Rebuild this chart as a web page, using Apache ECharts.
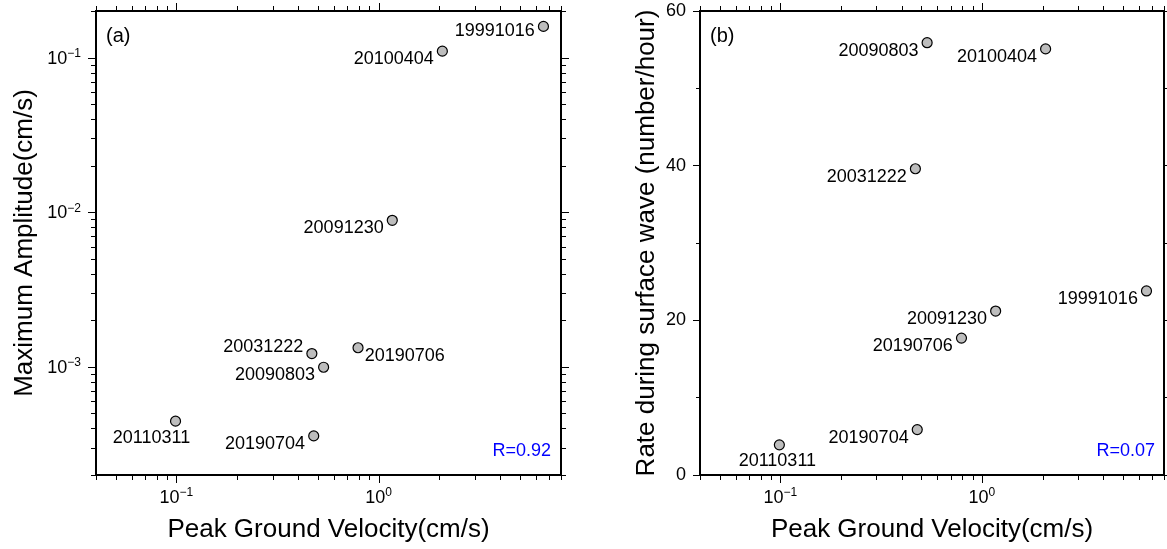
<!DOCTYPE html>
<html>
<head>
<meta charset="utf-8">
<script src="https://cdn.jsdelivr.net/npm/echarts@6/dist/echarts.min.js"></script>
<style>
html,body{margin:0;padding:0;background:#fff;}
#chart{width:1167px;height:549px;}
</style>
</head>
<body>
<div id="chart"></div>
<script>
// ---------------- data ----------------
const events = ['19991016','20100404','20091230','20031222','20090803','20190706','20110311','20190704'];
const pgv    = [6.55, 2.07, 1.17, 0.468, 0.535, 0.792, 0.099, 0.478];          // cm/s
const maxAmp = [0.159, 0.110, 0.00887, 0.00122, 0.000995, 0.00133, 0.000446, 0.000358]; // cm/s
const rate   = [23.8, 55.1, 21.2, 39.6, 55.9, 17.7, 3.9, 5.87];                 // number/hour
const pgvRange = [0.04, 8];
const ampRange = [0.0002, 0.2];
const rateRange = [0, 60];
const rateInterval = 20;
const panelTags = ['(a)', '(b)'];
const corrTexts = ['R=0.92', 'R=0.07'];
const xTitle = 'Peak Ground Velocity(cm/s)';
const yTitleA = 'Maximum Amplitude(cm/s)';
const yTitleB = 'Rate during surface wave (number/hour)';

// ---------------- styling ----------------
const FONT = "'Liberation Sans', Arial, Helvetica, sans-serif";
const placeA = {
  '19991016':{pos:'left',dy:5}, '20100404':{pos:'left',dy:8}, '20091230':{pos:'left',dy:8},
  '20031222':{pos:'left',dy:-7}, '20090803':{pos:'left',dy:8}, '20190706':{pos:'right',dy:8},
  '20110311':{pos:'bottom',dx:-24}, '20190704':{pos:'left',dy:8}
};
const placeB = {
  '19991016':{pos:'left',dy:8}, '20100404':{pos:'left',dy:8}, '20091230':{pos:'left',dy:8},
  '20031222':{pos:'left',dy:8}, '20090803':{pos:'left',dy:8}, '20190706':{pos:'left',dy:8},
  '20110311':{pos:'bottom',dx:-2}, '20190704':{pos:'left',dy:8}
};
function labelFor(p){
  const base = {show:true, formatter:'{b}', fontSize:18, color:'#000', fontFamily:FONT};
  if (p.pos === 'left') return Object.assign(base, {position:'left', distance:3, offset:[0,p.dy]});
  if (p.pos === 'right') return Object.assign(base, {position:'right', distance:1, offset:[0,p.dy]});
  return Object.assign(base, {position:'bottom', distance:2, offset:[p.dx,0]});
}
function logLabel(margin){
  return {
    margin: margin, color:'#000', fontFamily:FONT,
    formatter: function(v){
      const k = Math.log10(v), r = Math.round(k);
      if (Math.abs(k - r) > 1e-6) return '';
      return '{b|10}{s|' + (r < 0 ? '\u2212' : '') + Math.abs(r) + '}';
    },
    rich: {
      b: {fontSize:18, lineHeight:20, verticalAlign:'bottom', fontFamily:FONT, color:'#000'},
      s: {fontSize:12, lineHeight:12, verticalAlign:'top', fontFamily:FONT, color:'#000'}
    }
  };
}
function logTicks(range){
  const out = [];
  const e0 = Math.floor(Math.log10(range[0])) , e1 = Math.ceil(Math.log10(range[1]));
  for (let e = e0; e <= e1; e++) {
    for (let m = 1; m <= 9; m++) {
      const v = parseFloat((m * Math.pow(10, e)).toPrecision(6));
      if (v >= range[0] * 0.9999 && v <= range[1] * 1.0001) out.push({v: v, major: m === 1 ? 1 : 0});
    }
  }
  return out;
}
const MAJ = 7, MIN = 4;
function ln(x1,y1,x2,y2){
  return {type:'line', shape:{x1:x1,y1:y1,x2:x2,y2:y2}, style:{stroke:'#000', lineWidth:1}};
}
function xTickRender(yr){
  return function(params, api){
    const v = api.value(0), len = api.value(2) ? MAJ : MIN;
    const pb = api.coord([v, yr[0]]), pt = api.coord([v, yr[1]]);
    const x = Math.round(pb[0]) + 0.5;
    return {type:'group', children:[ ln(x, pb[1]+1, x, pb[1]+1+len), ln(x, pt[1]-1, x, pt[1]-1-len) ]};
  };
}
function yTickRender(xr){
  return function(params, api){
    const v = api.value(1), len = api.value(2) ? MAJ : MIN;
    const pl = api.coord([xr[0], v]), pr = api.coord([xr[1], v]);
    const y = Math.round(pl[1]) + 0.5;
    return {type:'group', children:[ ln(pl[0]-1, y, pl[0]-1-len, y), ln(pr[0]+1, y, pr[0]+1+len, y) ]};
  };
}
const xt = logTicks(pgvRange), yt = logTicks(ampRange);

const nameStyle = {fontSize:26, color:'#000', fontFamily:FONT};
const gridBase = {top:11, width:465, height:464, show:true, borderColor:'#000', borderWidth:2, backgroundColor:'transparent'};

const option = {
  animation:false,
  backgroundColor:'#fff',
  textStyle:{fontFamily:FONT},
  grid:[ Object.assign({left:96}, gridBase), Object.assign({left:700}, gridBase) ],
  xAxis:[
    {gridIndex:0, type:'log', logBase:10, min:pgvRange[0], max:pgvRange[1],
     axisLine:{show:false}, axisTick:{show:false}, splitLine:{show:false},
     axisLabel:logLabel(12), name:xTitle, nameLocation:'middle', nameGap:42, nameTextStyle:nameStyle},
    {gridIndex:1, type:'log', logBase:10, min:pgvRange[0], max:pgvRange[1],
     axisLine:{show:false}, axisTick:{show:false}, splitLine:{show:false},
     axisLabel:logLabel(12), name:xTitle, nameLocation:'middle', nameGap:42, nameTextStyle:nameStyle}
  ],
  yAxis:[
    {gridIndex:0, type:'log', logBase:10, min:ampRange[0], max:ampRange[1],
     axisLine:{show:false}, axisTick:{show:false}, splitLine:{show:false},
     axisLabel:logLabel(15), name:yTitleA, nameLocation:'middle', nameGap:58, nameTextStyle:nameStyle},
    {gridIndex:1, type:'value', min:rateRange[0], max:rateRange[1], interval:rateInterval,
     axisLine:{show:false}, splitLine:{show:false},
     axisTick:{show:true, length:MAJ, lineStyle:{color:'#000', width:1}},
     minorTick:{show:true, splitNumber:2, length:MIN, lineStyle:{color:'#000', width:1}},
     axisLabel:{margin:14, fontSize:18, color:'#000', fontFamily:FONT},
     name:yTitleB, nameLocation:'middle', nameGap:40, nameTextStyle:nameStyle},
    {gridIndex:1, type:'value', position:'right', min:rateRange[0], max:rateRange[1], interval:rateInterval,
     axisLine:{show:false}, splitLine:{show:false}, axisLabel:{show:false},
     axisTick:{show:true, length:MAJ, lineStyle:{color:'#000', width:1}},
     minorTick:{show:true, splitNumber:2, length:MIN, lineStyle:{color:'#000', width:1}}}
  ],
  graphic:[
    {type:'text', x:106, y:36, style:{text:panelTags[0], font:'20px '+FONT, fill:'#000', align:'left', verticalAlign:'middle'}},
    {type:'text', x:710, y:36, style:{text:panelTags[1], font:'20px '+FONT, fill:'#000', align:'left', verticalAlign:'middle'}},
    {type:'text', x:551, y:451, style:{text:corrTexts[0], font:'18px '+FONT, fill:'#0000ff', align:'right', verticalAlign:'middle'}},
    {type:'text', x:1155, y:451, style:{text:corrTexts[1], font:'18px '+FONT, fill:'#0000ff', align:'right', verticalAlign:'middle'}}
  ],
  series:[
    {type:'scatter', xAxisIndex:0, yAxisIndex:0, symbol:'circle', symbolSize:10, z:5,
     itemStyle:{color:'#bdbdbd', borderColor:'#000', borderWidth:1.2, opacity:1},
     data: events.map((e,i)=>({name:e, value:[pgv[i], maxAmp[i]], label:labelFor(placeA[e])}))},
    {type:'scatter', xAxisIndex:1, yAxisIndex:1, symbol:'circle', symbolSize:10, z:5,
     itemStyle:{color:'#bdbdbd', borderColor:'#000', borderWidth:1.2, opacity:1},
     data: events.map((e,i)=>({name:e, value:[pgv[i], rate[i]], label:labelFor(placeB[e])}))},
    {type:'custom', xAxisIndex:0, yAxisIndex:0, silent:true, clip:false, z:10,
     renderItem:xTickRender(ampRange), data: xt.map(t=>[t.v, ampRange[0], t.major])},
    {type:'custom', xAxisIndex:0, yAxisIndex:0, silent:true, clip:false, z:10,
     renderItem:yTickRender(pgvRange), data: yt.map(t=>[pgvRange[0], t.v, t.major])},
    {type:'custom', xAxisIndex:1, yAxisIndex:1, silent:true, clip:false, z:10,
     renderItem:xTickRender(rateRange), data: xt.map(t=>[t.v, rateRange[0], t.major])}
  ]
};
const chart = echarts.init(document.getElementById('chart'), null, {renderer:'canvas'});
chart.setOption(option);
</script>
</body>
</html>
